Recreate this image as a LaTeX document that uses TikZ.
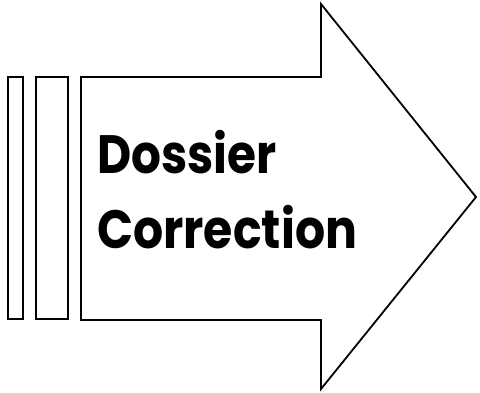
\documentclass[tikz,border=0pt]{standalone}
\usepackage{fontspec}
\setmainfont{Poppins}
\begin{document}
\begin{tikzpicture}[x=1pt,y=-1pt,
  outline/.style={draw=black,line width=1.8pt,line join=miter},
  label/.style={anchor=base west,inner sep=0pt,font=\fontsize{54}{58}\selectfont\bfseries}]
\useasboundingbox (0,0) rectangle (480,392);
\draw[outline] (8,77) rectangle (23,319);
\draw[outline] (36,77) rectangle (68,319);
\draw[outline] (81,77) -- (321,77) -- (321,4) -- (476,197) -- (321,389) -- (321,320) -- (81,320) -- cycle;
\node[label] (l1) at (97,173) {\scalebox{0.87}[1]{Dossier}};
\node[label] (l2) at (97,248) {\scalebox{0.877}[1]{Correction}};
\end{tikzpicture}
\end{document}
